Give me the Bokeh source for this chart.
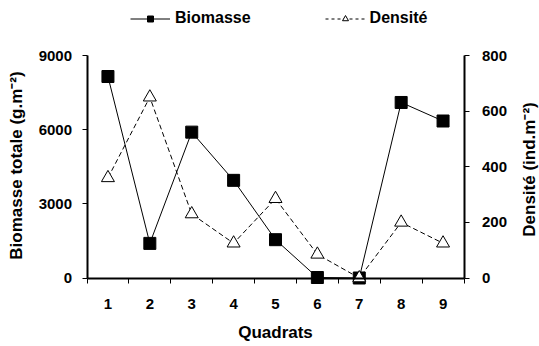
import math
from bokeh.plotting import figure
from bokeh.models import (ColumnDataSource, Range1d, LinearAxis, FixedTicker,
                          Legend, LegendItem, Label)
from bokeh.embed import file_html
from bokeh.resources import INLINE

# ---- data ----
quadrats = [1, 2, 3, 4, 5, 6, 7, 8, 9]
biomasse = [8150, 1400, 5900, 3950, 1550, 20, 0, 7100, 6350]
densite = [360, 650, 230, 125, 285, 85, 0, 200, 125]
x_tick_labels = ["1", "2", "3", "4", "5", "6", "7", "8", "9"]
left_ticks = [0, 3000, 6000, 9000]
right_ticks = [0, 200, 400, 600, 800]
x_title = "Quadrats"
left_title = "Biomasse totale (g.m\u207b\u00b2)"
right_title = "Densit\u00e9 (ind.m\u207b\u00b2)"
series_names = ["Biomasse", "Densit\u00e9"]

FONT = "Liberation Sans"

# ---- layout (canvas pixels, origin top-left) ----
W, H = 539, 346
AX_L, AX_R = 86.5, 463.5      # left / right value axes
AX_T, AX_B = 55.0, 277.5      # top of value axes / category axis
x_lo, x_hi = quadrats[0] - 0.5, quadrats[-1] + 0.5
left_max = left_ticks[-1]
right_max = right_ticks[-1]

px_x = (AX_R - AX_L) / (x_hi - x_lo)
xr = Range1d(x_lo - AX_L / px_x, x_hi + (W - AX_R) / px_x)
span = AX_B - AX_T
yr = Range1d(-(H - AX_B) / span * left_max, left_max + AX_T / span * left_max)
yr2 = Range1d(-(H - AX_B) / span * right_max, right_max + AX_T / span * right_max)

src = ColumnDataSource(dict(x=quadrats, b=biomasse, d=densite))

p = figure(width=W, height=H, output_backend="svg", toolbar_location=None,
           x_range=xr, y_range=yr,
           min_border_left=0, min_border_right=0,
           min_border_top=0, min_border_bottom=0)
p.extra_y_ranges = {"dens": yr2}
p.outline_line_color = None
p.xgrid.visible = False
p.ygrid.visible = False
p.background_fill_color = "white"

# lines
p.line("x", "b", source=src, line_color="black", line_width=1)
p.line("x", "d", source=src, line_color="black", line_width=1,
       line_dash="5 3", y_range_name="dens")
# markers
p.scatter("x", "b", source=src, marker="square", size=12,
          fill_color="black", line_color="black")
p.scatter("x", "d", source=src, marker="triangle", size=13,
          fill_color="white", line_color="black", line_width=1,
          y_range_name="dens")

# axes (drawn at fixed data locations)
xa = p.xaxis[0]
xa.fixed_location = 0
xa.bounds = (x_lo, x_hi)
xa.ticker = FixedTicker(ticks=quadrats,
                        minor_ticks=[q - 0.5 for q in quadrats] + [x_hi])
xa.major_label_overrides = {q: l for q, l in zip(quadrats, x_tick_labels)}
xa.major_tick_out = 0
xa.major_tick_in = 0
xa.minor_tick_out = 5
xa.minor_tick_in = 0
xa.minor_tick_line_color = "black"
xa.major_label_standoff = 16

ya = p.yaxis[0]
ya.fixed_location = x_lo
ya.bounds = (0, left_max)
ya.ticker = FixedTicker(ticks=left_ticks)
ya.minor_tick_line_color = None
ya.major_tick_out = 5
ya.major_tick_in = 0
ya.major_label_standoff = 10

ra = LinearAxis(y_range_name="dens", ticker=FixedTicker(ticks=right_ticks))
ra.fixed_location = x_hi
ra.bounds = (0, right_max)
ra.minor_tick_line_color = None
ra.major_tick_out = 5
ra.major_tick_in = 0
ra.major_label_standoff = 13
p.add_layout(ra, "right")

for ax in (xa, ya, ra):
    ax.axis_line_width = 2
    ax.axis_line_color = "black"
    ax.major_tick_line_color = "black"
    ax.major_tick_line_width = 1
    ax.major_label_text_font = FONT
    ax.major_label_text_font_style = "bold"
    ax.major_label_text_font_size = "15px"
    ax.major_label_text_color = "black"

# axis titles
title_kw = dict(x_units="screen", y_units="screen", text_font=FONT,
                text_font_style="bold", text_font_size="17px",
                text_color="black", text_align="center",
                text_baseline="middle")
p.add_layout(Label(x=(AX_L + AX_R) / 2, y=H - 332, text=x_title, **title_kw))
p.add_layout(Label(x=16, y=H - 165, text=left_title, angle=math.pi / 2,
                   **title_kw))
p.add_layout(Label(x=529, y=H - 169, text=right_title, angle=math.pi / 2,
                   **title_kw))

# legend sample glyphs (no visible data point)
nan = float("nan")
dummy = ColumnDataSource(dict(x=[nan], y=[nan]))
lb = p.line("x", "y", source=dummy, line_color="black", line_width=1)
sb = p.scatter("x", "y", source=dummy, marker="square", size=9,
               fill_color="black", line_color="black")
ld = p.line("x", "y", source=dummy, line_color="black", line_width=1,
            line_dash="3 3")
sd = p.scatter("x", "y", source=dummy, marker="triangle", size=10,
               fill_color="white", line_color="black")
legend = Legend(items=[LegendItem(label=series_names[0], renderers=[lb, sb]),
                       LegendItem(label=series_names[1], renderers=[ld, sd])],
                orientation="horizontal", location=(130, 319),
                glyph_width=40, glyph_height=15, label_standoff=5,
                spacing=74, padding=0, margin=0,
                border_line_color=None, background_fill_alpha=0,
                label_text_font=FONT, label_text_font_style="bold",
                label_text_font_size="16px", label_text_color="black")
p.add_layout(legend, "center")

open("out.html", "w").write(file_html(p, INLINE))
